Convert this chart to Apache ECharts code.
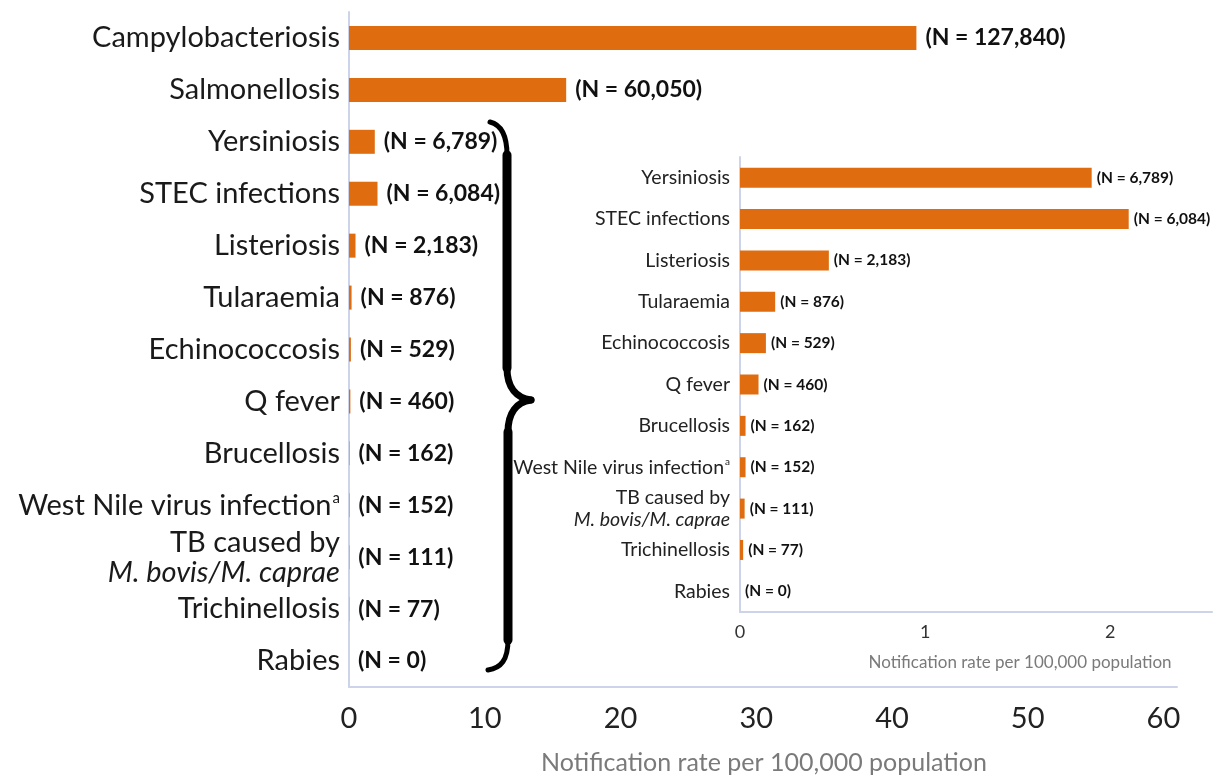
<!DOCTYPE html>
<html>
<head>
<meta charset="utf-8">
<script src="https://cdn.jsdelivr.net/npm/echarts@6/dist/echarts.min.js"></script>
<style>
html,body{margin:0;padding:0;background:#fff;}
#chart{width:1217px;height:780px;}
</style>
</head>
<body>
<div id="chart"></div>
<script>
// ---- Data ----
const mainCategories = ['Campylobacteriosis', 'Salmonellosis', 'Yersiniosis', 'STEC infections', 'Listeriosis', 'Tularaemia', 'Echinococcosis', 'Q fever', 'Brucellosis', 'West Nile virus infection{sup|a}', 'TB caused by\n{i|M. bovis/M. caprae}', 'Trichinellosis', 'Rabies'];
const bigRates = [41.8, 16.0];                 // Campylobacteriosis, Salmonellosis
const bigCases = [127840, 60050];
const smallCategories = mainCategories.slice(2);
const smallRates = [1.90, 2.10, 0.48, 0.19, 0.14, 0.10, 0.03, 0.03, 0.025, 0.017, 0];
const smallCases = [6789, 6084, 2183, 876, 529, 460, 162, 152, 111, 77, 0];
const mainTicks = [0, 10, 20, 30, 40, 50, 60];
const insetTicks = [0, 1, 2];
const axisTitle = 'Notification rate per 100,000 population';

const mainRates = bigRates.concat(smallRates);
const mainCases = bigCases.concat(smallCases);

const fmtN = n => '(N = ' + n.toLocaleString('en-US') + ')';
const ORANGE = '#e06c10';
const FONT = 'Lato';

const braceStyle = w => ({ stroke: '#000', lineWidth: w, fill: null, lineCap: 'round' });

const chart = echarts.init(document.getElementById('chart'));
chart.setOption({
  animation: false,
  backgroundColor: '#ffffff',
  textStyle: { fontFamily: FONT },
  grid: [
    { left: 349, top: 12, right: 40, bottom: 91, containLabel: false },
    { left: 740, top: 157, right: 5, bottom: 168, containLabel: false }
  ],
  xAxis: [
    {
      gridIndex: 0, type: 'value', min: 0, max: 61, interval: 10,
      splitLine: { show: false },
      axisTick: { show: false },
      axisLine: { show: true, lineStyle: { color: '#cdd4ea', width: 2 } },
      axisLabel: {
        margin: 17, fontSize: 29, color: '#222', fontFamily: FONT,
        formatter: v => mainTicks.indexOf(v) >= 0 ? String(v) : ''
      },
      name: axisTitle, nameLocation: 'middle', nameGap: 63,
      nameTextStyle: { fontSize: 25, color: '#7a7a7a', fontFamily: FONT, padding: [0, 0, 0, 2] }
    },
    {
      gridIndex: 1, type: 'value', min: 0, max: 2.55, interval: 1,
      splitLine: { show: false },
      axisTick: { show: false },
      axisLine: { show: true, lineStyle: { color: '#cdd4ea', width: 2 } },
      axisLabel: {
        margin: 11, fontSize: 18, color: '#333', fontFamily: FONT,
        formatter: v => insetTicks.indexOf(v) >= 0 ? String(v) : ''
      },
      name: axisTitle, nameLocation: 'middle', nameGap: 42,
      nameTextStyle: { fontSize: 17, color: '#7a7a7a', fontFamily: FONT, padding: [0, 0, 0, 88] }
    }
  ],
  yAxis: [
    {
      gridIndex: 0, type: 'category', data: mainCategories, inverse: true,
      axisTick: { show: false },
      axisLine: { show: true, lineStyle: { color: '#cdd4ea', width: 2 } },
      axisLabel: {
        margin: 9, fontSize: 29, color: '#1a1a1a', fontFamily: FONT, lineHeight: 30,
        rich: {
          sup: { fontSize: 15, color: '#1a1a1a', fontFamily: FONT, padding: [0, 0, 15, 1] },
          i: { fontSize: 29, fontStyle: 'italic', color: '#1a1a1a', fontFamily: FONT, lineHeight: 30 }
        }
      }
    },
    {
      gridIndex: 1, type: 'category', data: smallCategories, inverse: true,
      axisTick: { show: false },
      axisLine: { show: true, lineStyle: { color: '#cdd4ea', width: 2 } },
      axisLabel: {
        margin: 10, fontSize: 19.5, color: '#222', fontFamily: FONT, lineHeight: 22,
        rich: {
          sup: { fontSize: 10, color: '#222', fontFamily: FONT, padding: [0, 0, 10, 1] },
          i: { fontSize: 19.5, fontStyle: 'italic', color: '#222', fontFamily: FONT, lineHeight: 22 }
        }
      }
    }
  ],
  graphic: [
    { type: 'bezierCurve', z: 10, shape: { x1: 490, y1: 122, cpx1: 502, cpy1: 125, cpx2: 507, cpy2: 138, x2: 507, y2: 155 }, style: braceStyle(5) },
    { type: 'line', z: 10, shape: { x1: 507, y1: 155, x2: 507, y2: 368 }, style: braceStyle(9) },
    { type: 'bezierCurve', z: 10, shape: { x1: 507, y1: 368, cpx1: 507, cpy1: 388, cpx2: 517, cpy2: 398, x2: 531, y2: 400 }, style: braceStyle(7) },
    { type: 'bezierCurve', z: 10, shape: { x1: 531, y1: 400, cpx1: 517, cpy1: 402, cpx2: 508, cpy2: 412, x2: 508, y2: 432 }, style: braceStyle(7) },
    { type: 'line', z: 10, shape: { x1: 508, y1: 432, x2: 508, y2: 640 }, style: braceStyle(9) },
    { type: 'bezierCurve', z: 10, shape: { x1: 508, y1: 640, cpx1: 508, cpy1: 660, cpx2: 501, cpy2: 668, x2: 488, y2: 670 }, style: braceStyle(5) }
  ],
  series: [
    {
      type: 'bar', xAxisIndex: 0, yAxisIndex: 0, data: mainRates, barWidth: 24,
      itemStyle: { color: ORANGE },
      label: {
        show: true, position: 'right', distance: 9, fontSize: 23, fontWeight: 'bold',
        color: '#111', fontFamily: FONT,
        formatter: p => fmtN(mainCases[p.dataIndex])
      }
    },
    {
      type: 'bar', xAxisIndex: 1, yAxisIndex: 1, data: smallRates, barWidth: 20,
      itemStyle: { color: ORANGE },
      label: {
        show: true, position: 'right', distance: 5, fontSize: 15.5, fontWeight: 'bold',
        color: '#111', fontFamily: FONT,
        formatter: p => fmtN(smallCases[p.dataIndex])
      }
    }
  ]
});
</script>
</body>
</html>
